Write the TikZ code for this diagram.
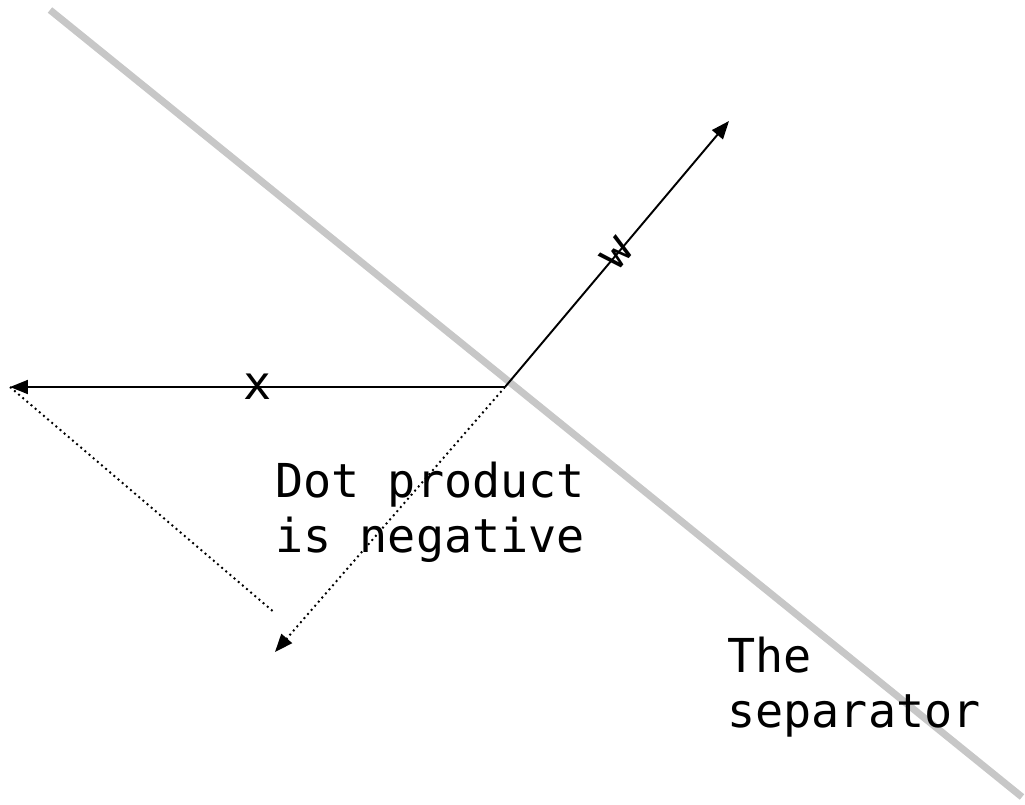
\documentclass[tikz,border=0pt]{standalone}
\usepackage{fontspec}
\setmonofont{DejaVu Sans Mono}
\usetikzlibrary{arrows.meta}

\begin{document}
\begin{tikzpicture}[x=0.02cm, y=-0.02cm,
    vec/.style={line width=1.1pt, -{Triangle[length=0.36cm,width=0.28cm]}},
    proj/.style={line width=1.1pt, dotted},
    lbl/.style={font=\fontsize{26.6}{31.3}\selectfont\ttfamily, inner sep=0pt}]
\useasboundingbox (0,0) rectangle (1025,805);
%The separator first, so that the vectors lie on top of it
\coordinate (s1) at (50,10);
\coordinate (s2) at (1022,797);
\draw[line width=4pt, color=black!22] (s1) -- (s2);
% the origin and the tips of the vectors
\coordinate (o) at (505,387);
\coordinate (w) at (729,121);
\coordinate (x) at (10,387);
\coordinate (p) at (275,652);
\coordinate (q) at (275,613);
% the two vectors, with their names on them
\draw[vec] (o) -- node[lbl, sloped]{w} (w);
\draw[vec] (o) -- node[lbl, sloped]{x} (x);
% the projection of x onto w
\draw[proj] (x) -- (q);
\draw[proj, -{Triangle[length=0.36cm,width=0.28cm]}] (o) -- (p);
%\draw[dashed] (x) -- (p);
\node[lbl, align=left, anchor=base west] (dot) at (275,552) {Dot product\\is negative};
\node[lbl, align=left, anchor=base west] (sep) at (727,727) {The\\separator};
\end{tikzpicture}
\end{document}
